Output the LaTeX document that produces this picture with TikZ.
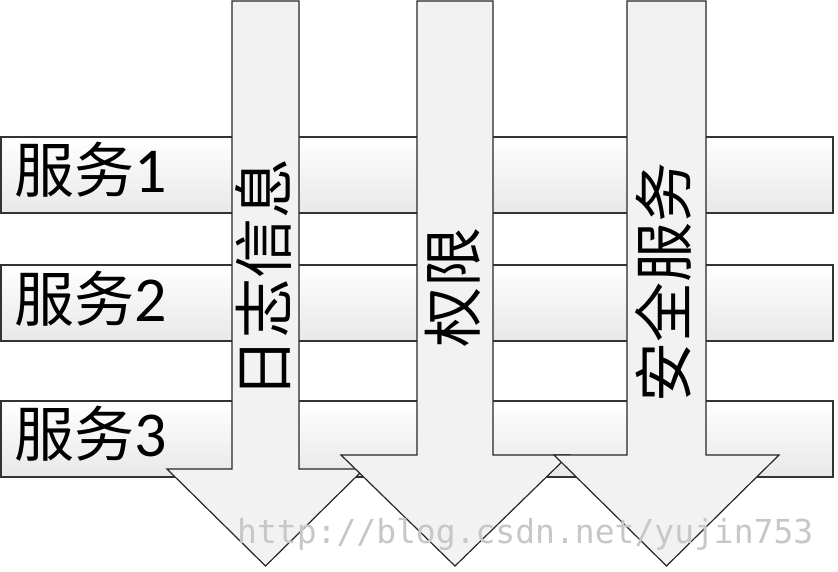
\documentclass[tikz,border=0pt]{standalone}
\usepackage{fontspec}
\newfontfamily\cjk{Noto Sans CJK SC}
\newfontfamily\digitfont{Carlito}
\newfontfamily\wmfont{DejaVu Sans Mono}
\begin{document}
\begin{tikzpicture}[x=1pt,y=-1pt,
  barshape/.style={draw=black!80, line width=1.2pt, top color=white, bottom color=black!9},
  arrowshape/.style={draw=black!85, line width=1.2pt, fill=black!5, line join=miter},
  barlbl/.style={font=\fontsize{60}{60}\selectfont\cjk, inner sep=0pt, anchor=base west},
  arrlbl/.style={font=\fontsize{60}{60}\selectfont\cjk, inner sep=0pt, rotate=90, anchor=center},
  wm/.style={font=\fontsize{33}{33}\selectfont\wmfont, text=black!22, inner sep=0pt, anchor=base west}]
\useasboundingbox (0,0) rectangle (838,572);
% bars
\draw[barshape] (1,137) rectangle (833,213);
\draw[barshape] (1,265) rectangle (833,341);
\draw[barshape] (1,401) rectangle (833,477);
\node[barlbl] (s1) at (14,193) {服务{\digitfont\fontsize{64}{64}\selectfont 1}};
\node[barlbl] (s2) at (14,321) {服务{\digitfont\fontsize{64}{64}\selectfont 2}};
\node[barlbl] (s3) at (14,456) {服务{\digitfont\fontsize{64}{64}\selectfont 3}};
% arrows
\draw[arrowshape] (232,1) -- (299,1) -- (299,469) -- (364,469) -- (265.5,566) -- (167,469) -- (232,469) -- cycle;
\draw[arrowshape] (417,1) -- (493,1) -- (493,455) -- (569,455) -- (455,566) -- (341,455) -- (417,455) -- cycle;
\draw[arrowshape] (627,1) -- (706,1) -- (706,455) -- (779,455) -- (666.5,566) -- (554,455) -- (627,455) -- cycle;
\node[arrlbl] (a1) at (263,278) {日志信息};
\node[arrlbl] (a2) at (453,287) {权限};
\node[arrlbl] (a3) at (663,282) {安全服务};
% watermark
\node[wm] (w) at (237,543) {http://blog.csdn.net/yujin753};
\end{tikzpicture}
\end{document}
